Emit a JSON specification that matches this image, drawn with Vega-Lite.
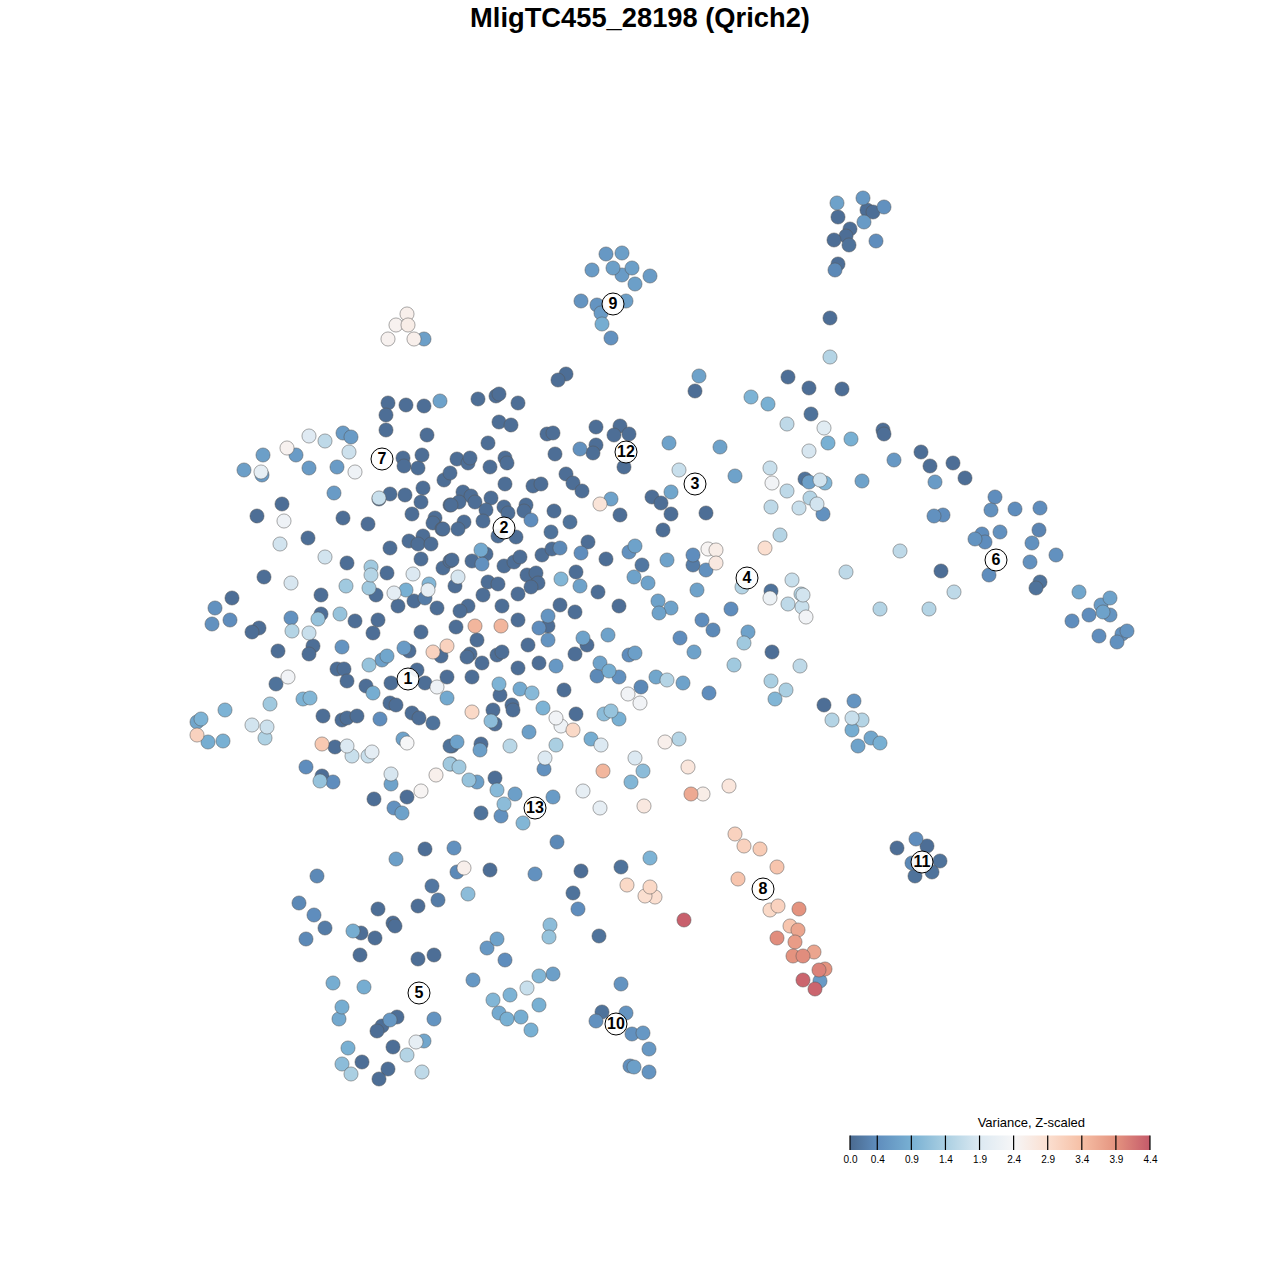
{"$schema":"https://vega.github.io/schema/vega-lite/v6.json","width":1280,"height":1280,"padding":0,"autosize":{"type":"none"},"background":"white",
"title":{"text":"MligTC455_28198 (Qrich2)","font":"Liberation Sans","fontSize":27.3,"fontWeight":"bold","color":"black","anchor":"middle","frame":"group","offset":-32},
"datasets":{"cells":[
{"x":388,"y":402,"v":0.05},{"x":406,"y":404,"v":0.05},{"x":424,"y":405,"v":0.05},{"x":440,"y":400,"v":0.7},{"x":386,"y":414,"v":0.05},{"x":386,"y":429,"v":0.05},{"x":427,"y":434,"v":0.05},{"x":309,"y":435,"v":1.95},{"x":325,"y":440,"v":1.6},{"x":343,"y":432,"v":0.6},{"x":351,"y":436,"v":0.6},{"x":349,"y":451,"v":1.75},{"x":287,"y":447,"v":2.5},{"x":263,"y":454,"v":0.65},{"x":296,"y":454,"v":0.6},{"x":244,"y":469,"v":0.65},{"x":261,"y":471,"v":2.1},{"x":262,"y":474,"v":0.6},{"x":309,"y":467,"v":0.6},{"x":337,"y":466,"v":0.6},{"x":355,"y":471,"v":2.25},{"x":334,"y":492,"v":0.6},{"x":403,"y":457,"v":0.05},{"x":404,"y":465,"v":0.05},{"x":418,"y":467,"v":0.05},{"x":422,"y":454,"v":0.05},{"x":444,"y":479,"v":0.05},{"x":450,"y":472,"v":0.05},{"x":390,"y":493,"v":0.05},{"x":405,"y":494,"v":0.05},{"x":423,"y":487,"v":0.05},{"x":421,"y":501,"v":0.05},{"x":379,"y":498,"v":0.02},{"x":379,"y":497,"v":1.7},{"x":282,"y":503,"v":0.05},{"x":257,"y":515,"v":0.05},{"x":284,"y":520,"v":2.25},{"x":343,"y":517,"v":0.05},{"x":368,"y":523,"v":0.05},{"x":412,"y":513,"v":0.05},{"x":435,"y":517,"v":0.05},{"x":433,"y":522,"v":0.05},{"x":442,"y":528,"v":0.05},{"x":450,"y":504,"v":0.05},{"x":308,"y":537,"v":0.05},{"x":280,"y":543,"v":1.8},{"x":325,"y":556,"v":1.8},{"x":347,"y":562,"v":0.05},{"x":390,"y":547,"v":0.05},{"x":423,"y":535,"v":0.05},{"x":409,"y":540,"v":0.05},{"x":418,"y":543,"v":0.05},{"x":431,"y":543,"v":0.05},{"x":421,"y":558,"v":0.05},{"x":443,"y":567,"v":0.05},{"x":450,"y":560,"v":0.05},{"x":371,"y":566,"v":1.3},{"x":371,"y":574,"v":1.5},{"x":387,"y":572,"v":0.05},{"x":264,"y":576,"v":0.05},{"x":291,"y":582,"v":1.85},{"x":346,"y":585,"v":1.3},{"x":369,"y":587,"v":1.3},{"x":413,"y":573,"v":1.9},{"x":429,"y":583,"v":1.0},{"x":406,"y":589,"v":0.9},{"x":428,"y":589,"v":2.1},{"x":394,"y":592,"v":2.05},{"x":376,"y":594,"v":0.05},{"x":321,"y":594,"v":0.05},{"x":425,"y":597,"v":0.2},{"x":414,"y":600,"v":0.05},{"x":398,"y":605,"v":0.05},{"x":437,"y":607,"v":0.05},{"x":232,"y":597,"v":0.05},{"x":215,"y":607,"v":0.45},{"x":212,"y":623,"v":0.45},{"x":230,"y":619,"v":0.4},{"x":259,"y":627,"v":0.05},{"x":252,"y":631,"v":0.05},{"x":291,"y":617,"v":0.45},{"x":321,"y":613,"v":0.05},{"x":318,"y":618,"v":1.2},{"x":340,"y":613,"v":1.2},{"x":292,"y":630,"v":1.5},{"x":309,"y":632,"v":1.7},{"x":355,"y":620,"v":0.05},{"x":378,"y":619,"v":0.05},{"x":373,"y":632,"v":0.05},{"x":421,"y":631,"v":0.05},{"x":278,"y":650,"v":0.05},{"x":313,"y":645,"v":0.05},{"x":309,"y":653,"v":0.05},{"x":342,"y":646,"v":0.5},{"x":404,"y":647,"v":0.6},{"x":409,"y":650,"v":0.05},{"x":433,"y":651,"v":3.1},{"x":441,"y":655,"v":0.05},{"x":447,"y":645,"v":3.1},{"x":369,"y":664,"v":1.2},{"x":382,"y":659,"v":0.65},{"x":387,"y":655,"v":0.75},{"x":337,"y":668,"v":0.05},{"x":344,"y":668,"v":0.05},{"x":347,"y":680,"v":0.05},{"x":417,"y":669,"v":0.05},{"x":288,"y":676,"v":2.3},{"x":276,"y":683,"v":0.1},{"x":366,"y":685,"v":0.05},{"x":373,"y":692,"v":0.85},{"x":391,"y":682,"v":0.05},{"x":425,"y":682,"v":0.05},{"x":437,"y":686,"v":2.25},{"x":447,"y":676,"v":0.05},{"x":447,"y":697,"v":0.8},{"x":270,"y":703,"v":1.3},{"x":303,"y":698,"v":0.95},{"x":310,"y":697,"v":1.0},{"x":390,"y":702,"v":0.05},{"x":396,"y":704,"v":0.05},{"x":225,"y":709,"v":0.95},{"x":201,"y":718,"v":0.95},{"x":197,"y":721,"v":0.75},{"x":197,"y":734,"v":3.1},{"x":208,"y":741,"v":0.85},{"x":223,"y":740,"v":0.9},{"x":252,"y":724,"v":1.8},{"x":267,"y":726,"v":1.75},{"x":265,"y":737,"v":1.45},{"x":323,"y":715,"v":0.05},{"x":342,"y":719,"v":0.05},{"x":347,"y":717,"v":0.05},{"x":357,"y":715,"v":0.05},{"x":380,"y":718,"v":0.4},{"x":412,"y":712,"v":0.05},{"x":419,"y":717,"v":0.05},{"x":433,"y":722,"v":0.1},{"x":403,"y":738,"v":0.7},{"x":407,"y":742,"v":2.4},{"x":322,"y":743,"v":3.25},{"x":335,"y":746,"v":0.05},{"x":347,"y":745,"v":1.9},{"x":352,"y":755,"v":1.7},{"x":368,"y":755,"v":1.7},{"x":372,"y":751,"v":2.05},{"x":450,"y":745,"v":0.1},{"x":450,"y":763,"v":1.3},{"x":306,"y":766,"v":0.4},{"x":322,"y":775,"v":0.05},{"x":320,"y":780,"v":1.2},{"x":333,"y":781,"v":0.4},{"x":391,"y":773,"v":1.85},{"x":391,"y":783,"v":0.7},{"x":436,"y":774,"v":2.55},{"x":421,"y":790,"v":2.45},{"x":374,"y":798,"v":0.05},{"x":407,"y":796,"v":0.05},{"x":394,"y":807,"v":0.45},{"x":402,"y":812,"v":0.7},{"x":425,"y":848,"v":0.05},{"x":396,"y":858,"v":0.65},{"x":454,"y":847,"v":0.45},{"x":317,"y":875,"v":0.35},{"x":432,"y":885,"v":0.15},{"x":438,"y":899,"v":0.2},{"x":299,"y":902,"v":0.35},{"x":418,"y":905,"v":0.05},
{"x":478,"y":398,"v":0.05},{"x":496,"y":395,"v":0.05},{"x":499,"y":393,"v":0.05},{"x":518,"y":402,"v":0.05},{"x":499,"y":421,"v":0.05},{"x":511,"y":424,"v":0.05},{"x":488,"y":442,"v":0.05},{"x":547,"y":433,"v":0.05},{"x":553,"y":432,"v":0.05},{"x":596,"y":426,"v":0.05},{"x":620,"y":425,"v":0.05},{"x":629,"y":433,"v":0.05},{"x":614,"y":434,"v":0.05},{"x":596,"y":444,"v":0.05},{"x":593,"y":452,"v":0.05},{"x":580,"y":448,"v":0.45},{"x":555,"y":453,"v":0.05},{"x":669,"y":442,"v":0.7},{"x":624,"y":466,"v":0.05},{"x":457,"y":458,"v":0.05},{"x":468,"y":462,"v":0.05},{"x":470,"y":457,"v":0.05},{"x":490,"y":466,"v":0.05},{"x":505,"y":457,"v":0.05},{"x":507,"y":462,"v":0.05},{"x":505,"y":483,"v":0.05},{"x":533,"y":485,"v":0.05},{"x":541,"y":483,"v":0.05},{"x":566,"y":473,"v":0.05},{"x":573,"y":482,"v":0.05},{"x":582,"y":490,"v":0.05},{"x":679,"y":469,"v":1.7},{"x":463,"y":491,"v":0.05},{"x":471,"y":495,"v":0.05},{"x":459,"y":501,"v":0.05},{"x":451,"y":504,"v":0.05},{"x":475,"y":501,"v":0.05},{"x":491,"y":497,"v":0.05},{"x":486,"y":509,"v":0.05},{"x":504,"y":506,"v":0.05},{"x":508,"y":512,"v":0.05},{"x":526,"y":504,"v":0.05},{"x":524,"y":510,"v":0.05},{"x":531,"y":519,"v":0.4},{"x":554,"y":510,"v":0.05},{"x":570,"y":521,"v":0.1},{"x":600,"y":503,"v":2.8},{"x":611,"y":498,"v":0.7},{"x":620,"y":514,"v":0.05},{"x":652,"y":496,"v":0.05},{"x":661,"y":502,"v":0.05},{"x":671,"y":491,"v":0.75},{"x":671,"y":513,"v":0.05},{"x":663,"y":529,"v":0.05},{"x":483,"y":520,"v":0.05},{"x":464,"y":521,"v":0.05},{"x":458,"y":528,"v":0.05},{"x":443,"y":528,"v":0.05},{"x":498,"y":535,"v":0.05},{"x":516,"y":536,"v":0.05},{"x":551,"y":531,"v":0.1},{"x":481,"y":549,"v":0.8},{"x":486,"y":553,"v":0.05},{"x":482,"y":563,"v":0.45},{"x":472,"y":560,"v":0.05},{"x":452,"y":559,"v":0.05},{"x":504,"y":565,"v":0.05},{"x":514,"y":561,"v":0.05},{"x":520,"y":556,"v":0.05},{"x":542,"y":554,"v":0.05},{"x":552,"y":548,"v":0.05},{"x":560,"y":547,"v":0.35},{"x":588,"y":541,"v":0.05},{"x":581,"y":552,"v":0.4},{"x":606,"y":558,"v":0.05},{"x":629,"y":551,"v":0.45},{"x":635,"y":545,"v":0.7},{"x":642,"y":564,"v":0.15},{"x":667,"y":559,"v":0.7},{"x":693,"y":554,"v":0.4},{"x":693,"y":564,"v":0.2},{"x":458,"y":576,"v":1.85},{"x":455,"y":585,"v":0.05},{"x":488,"y":581,"v":0.05},{"x":498,"y":583,"v":0.05},{"x":527,"y":574,"v":0.05},{"x":536,"y":572,"v":0.05},{"x":538,"y":582,"v":0.05},{"x":531,"y":586,"v":0.05},{"x":576,"y":571,"v":0.05},{"x":561,"y":578,"v":1.0},{"x":634,"y":576,"v":0.7},{"x":648,"y":582,"v":0.7},{"x":580,"y":585,"v":0.7},{"x":483,"y":594,"v":0.05},{"x":518,"y":593,"v":0.05},{"x":598,"y":591,"v":0.05},{"x":697,"y":589,"v":0.7},{"x":468,"y":605,"v":0.05},{"x":460,"y":610,"v":0.05},{"x":502,"y":605,"v":0.05},{"x":560,"y":604,"v":0.05},{"x":575,"y":611,"v":0.05},{"x":619,"y":605,"v":0.05},{"x":658,"y":600,"v":0.7},{"x":671,"y":607,"v":0.7},{"x":659,"y":612,"v":0.7},{"x":548,"y":615,"v":0.5},{"x":518,"y":619,"v":0.05},{"x":548,"y":625,"v":0.05},{"x":539,"y":627,"v":0.4},{"x":456,"y":626,"v":0.05},{"x":475,"y":625,"v":3.5},{"x":501,"y":625,"v":3.5},{"x":702,"y":619,"v":0.4},{"x":583,"y":637,"v":0.7},{"x":608,"y":634,"v":0.7},{"x":680,"y":637,"v":0.4},{"x":477,"y":639,"v":0.05},{"x":528,"y":644,"v":0.05},{"x":548,"y":639,"v":0.5},{"x":587,"y":644,"v":0.05},{"x":575,"y":653,"v":0.05},{"x":629,"y":654,"v":0.4},{"x":635,"y":652,"v":0.65},{"x":694,"y":651,"v":0.7},{"x":470,"y":653,"v":0.05},{"x":467,"y":656,"v":0.05},{"x":497,"y":654,"v":0.05},{"x":502,"y":651,"v":0.05},{"x":482,"y":662,"v":0.05},{"x":518,"y":667,"v":0.05},{"x":539,"y":662,"v":0.05},{"x":556,"y":665,"v":0.55},{"x":600,"y":662,"v":0.7},{"x":609,"y":670,"v":0.85},{"x":619,"y":676,"v":0.45},{"x":597,"y":675,"v":0.35},{"x":656,"y":676,"v":0.75},{"x":667,"y":679,"v":1.5},{"x":683,"y":682,"v":0.7},{"x":472,"y":676,"v":0.05},{"x":499,"y":683,"v":0.95},{"x":500,"y":694,"v":0.05},{"x":520,"y":688,"v":0.8},{"x":532,"y":692,"v":1.05},{"x":564,"y":689,"v":0.05},{"x":641,"y":686,"v":0.35},{"x":628,"y":693,"v":2.3},{"x":640,"y":702,"v":2.3},{"x":512,"y":704,"v":0.05},{"x":513,"y":709,"v":0.05},{"x":493,"y":709,"v":0.05},{"x":472,"y":711,"v":3.0},{"x":543,"y":707,"v":0.95},{"x":556,"y":717,"v":2.3},{"x":561,"y":725,"v":2.25},{"x":576,"y":713,"v":0.05},{"x":573,"y":729,"v":3.0},{"x":491,"y":720,"v":1.1},{"x":495,"y":723,"v":0.05},{"x":529,"y":731,"v":0.65},{"x":604,"y":713,"v":1.1},{"x":611,"y":710,"v":1.2},{"x":619,"y":718,"v":0.9},{"x":591,"y":738,"v":0.85},{"x":601,"y":744,"v":1.9},{"x":556,"y":744,"v":1.4},{"x":510,"y":745,"v":1.55},{"x":481,"y":743,"v":0.05},{"x":480,"y":749,"v":0.65},{"x":452,"y":745,"v":0.05},{"x":457,"y":741,"v":0.7},{"x":665,"y":741,"v":2.55},{"x":679,"y":738,"v":1.5},{"x":545,"y":757,"v":1.9},{"x":544,"y":768,"v":0.45},{"x":635,"y":757,"v":1.9},{"x":643,"y":770,"v":1.1},{"x":631,"y":781,"v":1.0},{"x":451,"y":763,"v":1.25},{"x":459,"y":766,"v":1.3},{"x":603,"y":770,"v":3.5},{"x":688,"y":766,"v":2.75},{"x":469,"y":779,"v":1.2},{"x":477,"y":781,"v":0.65},{"x":495,"y":777,"v":0.05},{"x":497,"y":789,"v":1.05},{"x":515,"y":793,"v":0.65},{"x":553,"y":796,"v":0.6},{"x":583,"y":790,"v":2.1},{"x":691,"y":793,"v":3.65},{"x":703,"y":793,"v":2.6},{"x":504,"y":803,"v":1.1},{"x":481,"y":812,"v":0.1},{"x":501,"y":815,"v":0.45},{"x":523,"y":822,"v":1.0},{"x":600,"y":807,"v":2.1},{"x":644,"y":805,"v":2.7},{"x":557,"y":841,"v":0.35},{"x":650,"y":857,"v":0.95},{"x":621,"y":866,"v":0.1},{"x":457,"y":871,"v":0.35},{"x":464,"y":867,"v":2.55},{"x":490,"y":869,"v":0.05},{"x":535,"y":873,"v":0.45},{"x":581,"y":870,"v":0.05},{"x":627,"y":884,"v":3.0},{"x":650,"y":886,"v":3.0},{"x":468,"y":893,"v":1.1},{"x":573,"y":892,"v":0.1},
{"x":837,"y":202,"v":0.7},{"x":863,"y":197,"v":0.55},{"x":867,"y":209,"v":0.05},{"x":873,"y":211,"v":0.05},{"x":884,"y":206,"v":0.45},{"x":838,"y":216,"v":0.05},{"x":864,"y":221,"v":0.6},{"x":850,"y":228,"v":0.05},{"x":846,"y":235,"v":0.05},{"x":834,"y":239,"v":0.05},{"x":849,"y":244,"v":0.1},{"x":876,"y":240,"v":0.4},{"x":838,"y":263,"v":0.05},{"x":835,"y":269,"v":0.35},{"x":830,"y":317,"v":0.05},{"x":830,"y":356,"v":1.5},
{"x":606,"y":253,"v":0.55},{"x":622,"y":252,"v":0.65},{"x":592,"y":269,"v":0.6},{"x":613,"y":267,"v":0.65},{"x":632,"y":267,"v":0.65},{"x":622,"y":274,"v":0.6},{"x":650,"y":275,"v":0.6},{"x":635,"y":283,"v":0.65},{"x":581,"y":300,"v":0.5},{"x":597,"y":304,"v":0.5},{"x":626,"y":300,"v":0.65},{"x":601,"y":312,"v":0.6},{"x":602,"y":323,"v":0.85},{"x":611,"y":337,"v":0.45},
{"x":407,"y":313,"v":2.55},{"x":396,"y":324,"v":2.5},{"x":408,"y":324,"v":2.6},{"x":388,"y":338,"v":2.5},{"x":414,"y":338,"v":2.55},{"x":424,"y":338,"v":0.65},
{"x":699,"y":375,"v":0.7},{"x":695,"y":390,"v":0.05},{"x":566,"y":373,"v":0.05},{"x":558,"y":379,"v":0.05},{"x":788,"y":376,"v":0.05},{"x":809,"y":387,"v":0.05},{"x":842,"y":388,"v":0.05},{"x":751,"y":396,"v":0.95},{"x":768,"y":403,"v":0.9},{"x":811,"y":413,"v":0.1},{"x":787,"y":423,"v":1.6},{"x":824,"y":427,"v":2.0},{"x":828,"y":442,"v":0.9},{"x":851,"y":438,"v":0.9},{"x":720,"y":446,"v":0.7},{"x":809,"y":450,"v":1.85},{"x":883,"y":429,"v":0.05},{"x":884,"y":433,"v":0.05},{"x":921,"y":451,"v":0.05},{"x":894,"y":459,"v":0.55},{"x":930,"y":465,"v":0.05},{"x":953,"y":462,"v":0.05},{"x":965,"y":477,"v":0.05},{"x":935,"y":481,"v":0.6},{"x":735,"y":475,"v":0.7},{"x":770,"y":467,"v":1.7},{"x":772,"y":482,"v":2.3},{"x":805,"y":478,"v":0.1},{"x":809,"y":481,"v":0.65},{"x":825,"y":482,"v":1.0},{"x":820,"y":479,"v":1.8},{"x":862,"y":480,"v":0.7},{"x":787,"y":490,"v":1.6},{"x":810,"y":497,"v":1.5},{"x":817,"y":503,"v":1.8},{"x":771,"y":506,"v":1.6},{"x":799,"y":507,"v":1.7},{"x":823,"y":513,"v":0.45},{"x":706,"y":512,"v":0.05},{"x":780,"y":534,"v":1.5},{"x":995,"y":496,"v":0.4},{"x":1015,"y":508,"v":0.4},{"x":1040,"y":507,"v":0.4},{"x":991,"y":509,"v":0.45},{"x":934,"y":515,"v":0.45},{"x":943,"y":514,"v":0.4},{"x":1039,"y":529,"v":0.3},{"x":982,"y":533,"v":0.4},{"x":1000,"y":531,"v":0.45},{"x":975,"y":538,"v":0.5},{"x":985,"y":541,"v":0.4},{"x":1032,"y":542,"v":0.45},{"x":1056,"y":554,"v":0.45},{"x":900,"y":550,"v":1.6},{"x":765,"y":547,"v":2.9},{"x":708,"y":548,"v":2.45},{"x":716,"y":549,"v":2.6},{"x":716,"y":562,"v":2.7},{"x":706,"y":569,"v":0.45},{"x":1030,"y":561,"v":0.45},{"x":941,"y":570,"v":0.05},{"x":989,"y":574,"v":0.4},{"x":846,"y":571,"v":1.6},{"x":792,"y":579,"v":1.7},{"x":742,"y":586,"v":1.5},{"x":771,"y":590,"v":0.1},{"x":770,"y":597,"v":2.2},{"x":801,"y":593,"v":1.5},{"x":803,"y":594,"v":1.8},{"x":788,"y":603,"v":1.6},{"x":802,"y":606,"v":1.7},{"x":806,"y":616,"v":2.3},{"x":731,"y":608,"v":0.4},{"x":1040,"y":581,"v":0.1},{"x":1036,"y":587,"v":0.1},{"x":954,"y":591,"v":1.6},{"x":1079,"y":591,"v":0.75},{"x":1110,"y":597,"v":0.7},{"x":1101,"y":604,"v":0.6},{"x":880,"y":608,"v":1.5},{"x":929,"y":608,"v":1.5},{"x":1103,"y":611,"v":0.7},{"x":1110,"y":614,"v":0.5},{"x":1089,"y":614,"v":0.4},{"x":1072,"y":620,"v":0.4},{"x":1127,"y":630,"v":0.5},{"x":1122,"y":633,"v":0.45},{"x":1099,"y":635,"v":0.4},{"x":1117,"y":641,"v":0.45},{"x":713,"y":629,"v":0.35},{"x":748,"y":631,"v":0.7},{"x":744,"y":642,"v":1.3},{"x":772,"y":651,"v":0.05},{"x":734,"y":664,"v":1.3},{"x":800,"y":665,"v":1.6},{"x":771,"y":680,"v":1.4},{"x":786,"y":689,"v":1.4},{"x":775,"y":698,"v":1.0},{"x":709,"y":692,"v":0.4},{"x":824,"y":704,"v":0.05},{"x":854,"y":700,"v":0.5},{"x":832,"y":719,"v":1.5},{"x":852,"y":717,"v":1.7},{"x":862,"y":719,"v":1.5},{"x":852,"y":729,"v":0.85},{"x":871,"y":737,"v":0.75},{"x":880,"y":742,"v":0.9},{"x":858,"y":745,"v":0.7},
{"x":916,"y":838,"v":0.4},{"x":927,"y":845,"v":0.05},{"x":897,"y":847,"v":0.05},{"x":912,"y":862,"v":0.35},{"x":940,"y":860,"v":0.1},{"x":932,"y":871,"v":0.1},{"x":915,"y":875,"v":0.1},
{"x":735,"y":833,"v":3.1},{"x":744,"y":845,"v":3.1},{"x":760,"y":848,"v":3.2},{"x":777,"y":866,"v":3.3},{"x":738,"y":878,"v":3.3},{"x":770,"y":909,"v":3.0},{"x":778,"y":905,"v":3.1},{"x":799,"y":908,"v":3.9},{"x":790,"y":925,"v":3.3},{"x":798,"y":929,"v":3.7},{"x":777,"y":937,"v":3.95},{"x":795,"y":941,"v":3.8},{"x":814,"y":951,"v":3.7},{"x":793,"y":955,"v":3.9},{"x":803,"y":955,"v":3.95},{"x":825,"y":968,"v":3.9},{"x":819,"y":969,"v":4.05},{"x":820,"y":980,"v":0.6},{"x":803,"y":979,"v":4.3},{"x":815,"y":988,"v":4.3},{"x":684,"y":919,"v":4.35},{"x":655,"y":896,"v":2.9},{"x":645,"y":895,"v":2.9},{"x":729,"y":785,"v":2.75},
{"x":578,"y":908,"v":0.4},{"x":314,"y":914,"v":0.4},{"x":325,"y":927,"v":0.2},{"x":306,"y":938,"v":0.35},{"x":378,"y":908,"v":0.05},{"x":393,"y":922,"v":0.05},{"x":395,"y":925,"v":0.05},{"x":353,"y":930,"v":0.85},{"x":361,"y":932,"v":0.05},{"x":375,"y":937,"v":0.05},{"x":360,"y":954,"v":0.05},{"x":418,"y":958,"v":0.05},{"x":434,"y":954,"v":0.05},{"x":497,"y":938,"v":0.7},{"x":487,"y":947,"v":0.55},{"x":505,"y":959,"v":0.4},{"x":550,"y":924,"v":1.1},{"x":549,"y":936,"v":1.2},{"x":599,"y":935,"v":0.1},{"x":553,"y":973,"v":0.65},{"x":539,"y":975,"v":1.0},{"x":473,"y":979,"v":0.55},{"x":527,"y":987,"v":1.7},{"x":510,"y":994,"v":0.95},{"x":493,"y":999,"v":1.0},{"x":539,"y":1004,"v":0.9},{"x":499,"y":1012,"v":0.8},{"x":507,"y":1018,"v":0.9},{"x":521,"y":1016,"v":0.85},{"x":531,"y":1029,"v":0.9},{"x":621,"y":983,"v":0.5},{"x":333,"y":982,"v":0.85},{"x":364,"y":986,"v":0.85},{"x":342,"y":1006,"v":0.85},{"x":339,"y":1018,"v":0.8},{"x":602,"y":1011,"v":0.1},{"x":626,"y":1012,"v":0.5},{"x":596,"y":1020,"v":0.45},{"x":632,"y":1033,"v":0.45},{"x":643,"y":1032,"v":0.55},{"x":649,"y":1048,"v":0.55},{"x":630,"y":1065,"v":0.45},{"x":634,"y":1066,"v":0.65},{"x":649,"y":1071,"v":0.5},{"x":434,"y":1018,"v":0.5},{"x":397,"y":1016,"v":0.05},{"x":390,"y":1019,"v":0.55},{"x":382,"y":1025,"v":0.05},{"x":377,"y":1030,"v":0.05},{"x":424,"y":1040,"v":0.75},{"x":416,"y":1041,"v":2.1},{"x":393,"y":1046,"v":0.05},{"x":348,"y":1047,"v":0.9},{"x":407,"y":1054,"v":1.5},{"x":342,"y":1063,"v":1.1},{"x":362,"y":1061,"v":0.05},{"x":388,"y":1068,"v":0.05},{"x":351,"y":1073,"v":1.4},{"x":379,"y":1078,"v":0.05},{"x":422,"y":1071,"v":1.6}
],
"clusters":[{"x":408,"y":678,"c":"1"},{"x":504,"y":527,"c":"2"},{"x":695,"y":483,"c":"3"},{"x":747,"y":577,"c":"4"},{"x":419,"y":992,"c":"5"},{"x":996,"y":559,"c":"6"},{"x":382,"y":458,"c":"7"},{"x":763,"y":888,"c":"8"},{"x":613,"y":303,"c":"9"},{"x":616,"y":1023,"c":"10"},{"x":922,"y":861,"c":"11"},{"x":626,"y":451,"c":"12"},{"x":535,"y":807,"c":"13"}],
"legendbar":[{"t":0,"t2":4.4}],
"legendticks":[{"t":0},{"t":0.4},{"t":0.9},{"t":1.4},{"t":1.9},{"t":2.4},{"t":2.9},{"t":3.4},{"t":3.9},{"t":4.4}],
"legendtitle":[{"t":2.66,"label":"Variance, Z-scaled"}]},
"layer":[
{"data":{"name":"cells"},"mark":{"type":"circle","size":200,"opacity":1,"stroke":"#555555","strokeOpacity":0.5,"strokeWidth":1},
"encoding":{"x":{"field":"x","type":"quantitative","scale":{"domain":[0,1280],"nice":false,"zero":false},"axis":null},
"y":{"field":"y","type":"quantitative","scale":{"domain":[1279,-1],"nice":false,"zero":false},"axis":null},
"order":{"field":"v","type":"quantitative"},
"color":{"field":"v","type":"quantitative","scale":{"interpolate":"rgb","domain":[0,0.4,0.9,1.4,1.9,2.4,2.9,3.4,3.9,4.4],"range":["#4a6a90","#5f8dbd","#78b0d3","#aacfe2","#dce9f2","#f6f6f7","#fbdfd0","#f6bfa5","#e4937f","#c55a6a"]},
"legend":{"orient":"none","legendX":850.5,"legendY":1134,"direction":"horizontal","title":null,"gradientLength":300,"gradientThickness":15,"gradientStrokeWidth":0,"gradientOpacity":0,"values":[0,0.4,0.9,1.4,1.9,2.4,2.9,3.4,3.9,4.4],"format":".1f","labelFont":"Liberation Sans","labelFontSize":10,"labelColor":"black","labelOffset":6,"labelOverlap":false,"encoding":{"labels":{"align":{"value":"center"}}}}}}},
{"data":{"name":"legendbar"},"mark":{"type":"rect","color":{"gradient":"linear","x1":0,"x2":1,"y1":0,"y2":0,"stops":[{"offset":0,"color":"#4a6a90"},{"offset":0.0909,"color":"#5f8dbd"},{"offset":0.2045,"color":"#78b0d3"},{"offset":0.3182,"color":"#aacfe2"},{"offset":0.4318,"color":"#dce9f2"},{"offset":0.5455,"color":"#f6f6f7"},{"offset":0.6591,"color":"#fbdfd0"},{"offset":0.7727,"color":"#f6bfa5"},{"offset":0.8864,"color":"#e4937f"},{"offset":1,"color":"#c55a6a"}]}},
"encoding":{"x":{"field":"t","type":"quantitative","scale":{"domain":[-12.467,6.307],"nice":false,"zero":false},"axis":null},"x2":{"field":"t2"},"y":{"datum":1134.5,"type":"quantitative","axis":null},"y2":{"datum":1149}}},
{"data":{"name":"legendticks"},"mark":{"type":"rule","color":"black","strokeWidth":1.2},
"encoding":{"x":{"field":"t","type":"quantitative","scale":{"domain":[-12.467,6.307],"nice":false,"zero":false},"axis":null},"y":{"datum":1134.5,"type":"quantitative","axis":null},"y2":{"datum":1149}}},
{"data":{"name":"legendtitle"},"mark":{"type":"text","font":"Liberation Sans","fontSize":13,"color":"black","align":"center","baseline":"middle"},
"encoding":{"x":{"field":"t","type":"quantitative","scale":{"domain":[-12.467,6.307],"nice":false,"zero":false},"axis":null},"y":{"datum":1122,"type":"quantitative","axis":null},"text":{"field":"label","type":"nominal"}}},
{"data":{"name":"clusters"},"mark":{"type":"circle","size":484,"fill":"white","fillOpacity":0.92,"stroke":"black","strokeWidth":1,"opacity":1},
"encoding":{"x":{"field":"x","type":"quantitative","scale":{"domain":[0,1280],"nice":false,"zero":false},"axis":null},"y":{"field":"y","type":"quantitative","axis":null}}},
{"data":{"name":"clusters"},"mark":{"type":"text","font":"Liberation Sans","fontSize":16,"fontWeight":"bold","color":"black","align":"center","baseline":"middle"},
"encoding":{"x":{"field":"x","type":"quantitative","scale":{"domain":[0,1280],"nice":false,"zero":false},"axis":null},"y":{"field":"y","type":"quantitative","axis":null},"text":{"field":"c","type":"nominal"}}}
],
"resolve":{"scale":{"x":"independent"}},
"config":{"view":{"stroke":null}}}
